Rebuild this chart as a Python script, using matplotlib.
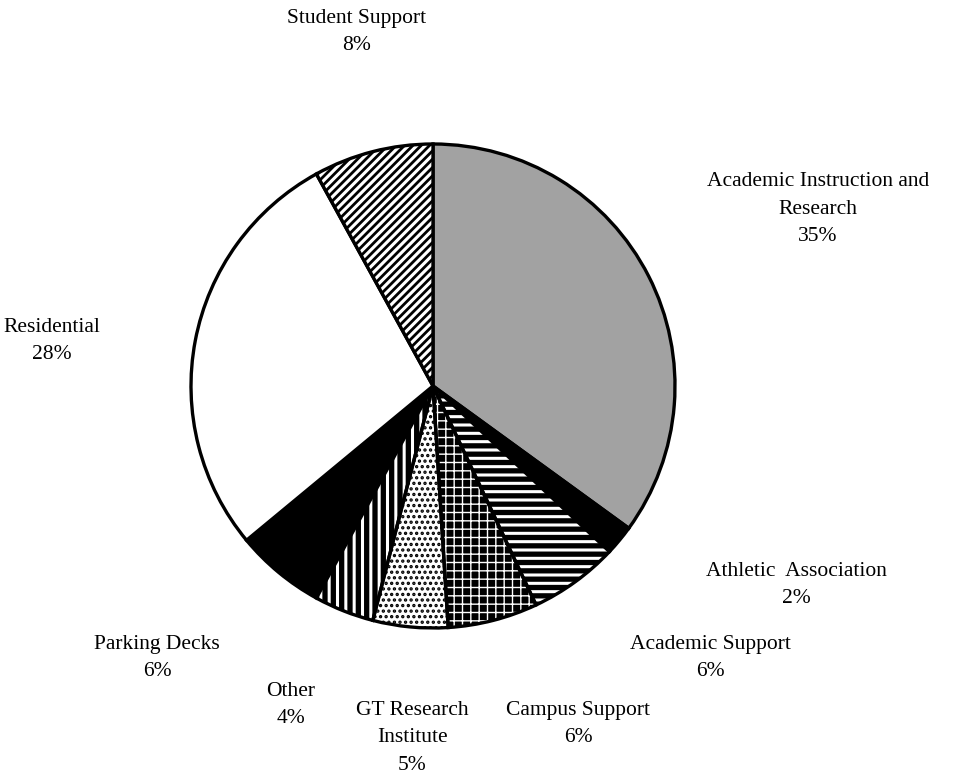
import matplotlib
matplotlib.use("Agg")
import matplotlib.pyplot as plt
from matplotlib.patches import Wedge

# data
categories = ["Academic Instruction and\nResearch", "Athletic  Association", "Academic Support",
              "Campus Support", "GT Research\nInstitute", "Other", "Parking Decks",
              "Residential", "Student Support"]
shares = [35, 2, 6, 6, 5, 4, 6, 28, 8]

# styles: facecolor, hatch, hatch colour, hatch linewidth
faces = ["#a2a2a2", "black", "white", "black", "white", "black", "black", "white", "white"]
hatches = [None, None, "--", "++", "...", "||", None, None, "////"]
hatch_colors = [None, None, "black", "white", "black", "white", None, None, "black"]
hatch_lw = [1, 1, 3.8, 1.0, 1.6, 2.2, 1, 1, 2.0]

# label layout in pixel coords (x, y from top)
label_pos = [(818, 209), (796, 585), (710, 658), (578, 724), (412, 738),
             (291, 705), (157, 658), (52, 341), (357, 32)]

plt.rcParams['font.family'] = ['Liberation Serif', 'DejaVu Serif']

W, H = 961, 778
fig = plt.figure(figsize=(W / 100, H / 100), dpi=100)
ax = fig.add_axes([0, 0, 1, 1])

cx, cy, r = 433, H - 386, 242
wedges, _ = ax.pie(shares, startangle=90, counterclock=False, center=(cx, cy), radius=r,
                   frame=True)
ax.set_xlim(0, W)
ax.set_ylim(0, H)
ax.set_aspect('equal')
ax.axis('off')

for w, fc, h, hc, lw in zip(wedges, faces, hatches, hatch_colors, hatch_lw):
    w.set_facecolor(fc)
    w.set_edgecolor('black')
    w.set_linewidth(2.4)
    if h:
        # hatch takes the edge colour, so draw a hatched copy under a plain outline
        hw = Wedge(w.center, w.r, w.theta1, w.theta2, facecolor=fc, edgecolor=hc,
                   hatch=h, linewidth=0, zorder=w.get_zorder())
        if hasattr(hw, "set_hatch_linewidth"):
            hw.set_hatch_linewidth(lw)
        ax.add_patch(hw)
        w.set_facecolor('none')
        w.set_zorder(hw.get_zorder() + 0.1)

for text, pct, (x, y) in zip(categories, shares, label_pos):
    ax.text(x, H - y, f"{text}\n{pct}%", ha='center', va='center', fontsize=15.5,
            linespacing=1.6)

fig.savefig("out.png", dpi=100)
